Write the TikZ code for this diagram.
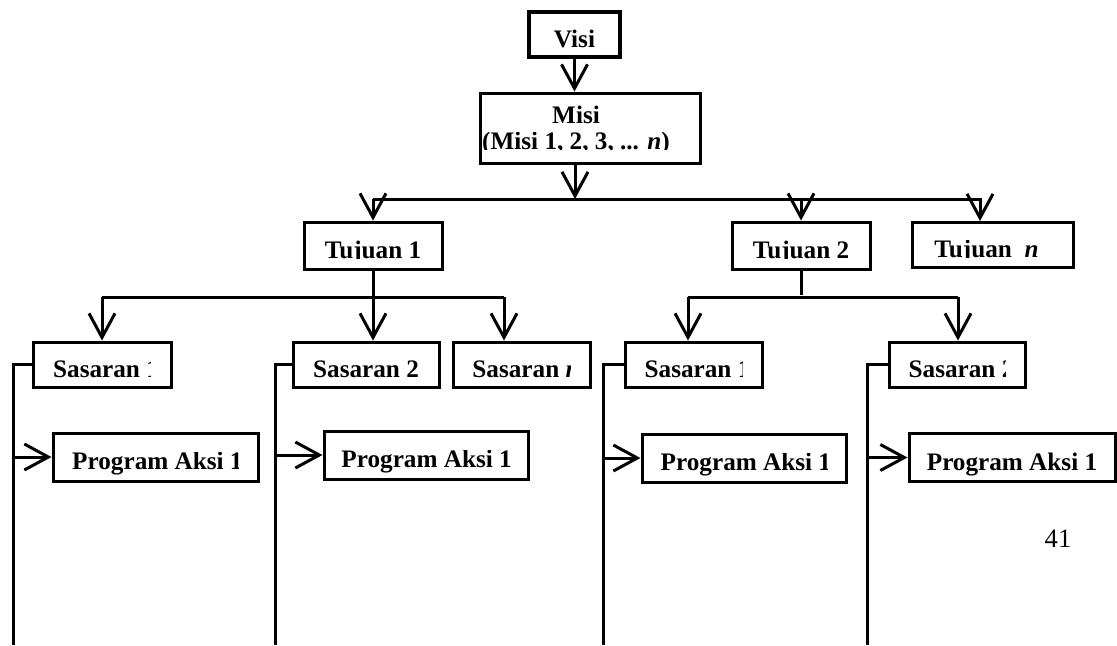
\documentclass[tikz,border=0pt]{standalone}
\usepackage{fontspec}
\setmainfont{Liberation Serif}[BoldFont={Liberation Serif Bold},
    ItalicFont={Liberation Serif Italic},BoldItalicFont={Liberation Serif Bold Italic}]
\usepackage{trimclip}
\usetikzlibrary{arrows.meta}
\newcommand{\cutbase}[1]{\clipbox*{0pt 0pt {\width} {\height}}{#1}}
\newcommand{\cutend}[2]{\clipbox{0pt 0pt #1 0pt}{#2}}
\tikzset{boxline/.style={draw,line width=1.5pt,inner sep=0pt,
    font=\bfseries\fontsize{12.6}{13}\selectfont},
    box/.style={boxline,text height=12.6pt,text depth=0pt},
    sbox/.style={box,minimum height=22.5pt},
    pbox/.style={box,minimum height=24pt},
    link/.style={line width=1.5pt},
    arr/.style={link,-{Straight Barb[length=12pt,width=13pt]}}}
\begin{document}
\begin{tikzpicture}[x=0.5pt,y=-0.5pt]
\useasboundingbox (0,0) rectangle (1117,645);
% visi & misi
\node[box,line width=2pt,minimum width=45.5pt,minimum height=22.5pt] (visi) at (574.5,34.5) {Visi};
\node[boxline,align=center,minimum width=110pt,minimum height=35pt,yshift=-4pt] (misi) at (590,120)
    {Misi\hspace*{14pt}\\\cutbase{(Misi 1, 2, 3, ... \textit{n})}\hspace*{14pt}};
\draw[arr] (visi.south) -- (visi.south |- misi.north);
% tujuan
\node[box,minimum width=69pt,minimum height=23.5pt] (tuj1) at (373,245.5) {\cutbase{Tujuan 1}};
\node[box,minimum width=69pt,minimum height=23.5pt] (tuj2) at (801,245.5) {\cutbase{Tujuan 2}};
\node[box,minimum width=80.5pt,minimum height=22.5pt] (tujn) at (992.5,245) {\cutbase{Tujuan\ \ \textit{n}}\hspace*{6pt}};
\coordinate (bus) at (575,199);
\coordinate (busn) at (980,199);
\draw[arr] (misi.south -| bus) -- (bus);
\draw[link] (tuj1.north |- bus) -- ([xshift=1pt]busn);
\draw[arr] (tuj1.north |- bus) -- (tuj1.north);
\draw[arr] (tuj2.north |- bus) -- (tuj2.north);
\draw[arr] (busn) -- (busn |- tujn.north);
% sasaran
\node[sbox,minimum width=69pt] (s11) at (102,364.5) {\cutend{0.32em}{Sasaran 1}};
\node[sbox,minimum width=73pt] (s12) at (366,364.5) {Sasaran 2};
\node[sbox,minimum width=68.5pt] (s1n) at (521.5,364.5) {\cutend{0.36em}{Sasaran \textit{n}}};
\node[sbox,minimum width=68.5pt] (s21) at (693.5,364.5) {\cutend{0.32em}{Sasaran 1}};
\node[sbox,minimum width=68pt] (s22) at (957,364.5) {\cutend{0.36em}{Sasaran 2}};
\coordinate (a1n) at (504,297);
\coordinate (b1) at (tuj1.south |- a1n);
\draw[link] (tuj1.south) -- (b1);
\draw[link] (s11.north |- b1) -- (a1n);
\draw[arr] (s11.north |- b1) -- (s11.north);
\draw[arr] (b1) -- (b1 |- s12.north);
\draw[arr] (a1n) -- (a1n |- s1n.north);
\path (tuj2.south) ++(0,24) coordinate (t2s);
\coordinate (a21) at (688,297);
\coordinate (a22) at (958,297);
\draw[link] (tuj2.south) -- (t2s);
\draw[link] (a21) -- (a22);
\draw[arr] (a21) -- (a21 |- s21.north);
\draw[arr] (a22) -- (a22 |- s22.north);
% program aksi
\node[pbox,minimum width=102.5pt] (p11) at (155.5,457) {\cutend{0.15em}{Program Aksi 1}};
\node[pbox,minimum width=102pt] (p12) at (426,455) {\cutend{0.05em}{Program Aksi 1}};
\node[pbox,minimum width=102pt] (p21) at (744,458) {\cutend{0.15em}{Program Aksi 1}};
\node[pbox,minimum width=103pt] (p22) at (1012,457.5) {Program Aksi 1};
\coordinate (v11) at (13,645);
\coordinate (v12) at (275,645);
\coordinate (v21) at (603,645);
\coordinate (v22) at (867,645);
\foreach \s/\v/\p in {s11/v11/p11,s12/v12/p12,s21/v21/p21,s22/v22/p22}{
    \draw[link] (\s.west) -| (\v);
    \draw[arr] (\v |- \p.west) -- (\p.west);
}
\node[font=\fontsize{13.3}{14}\selectfont] (page) at (1058,539) {41};
\end{tikzpicture}
\end{document}
